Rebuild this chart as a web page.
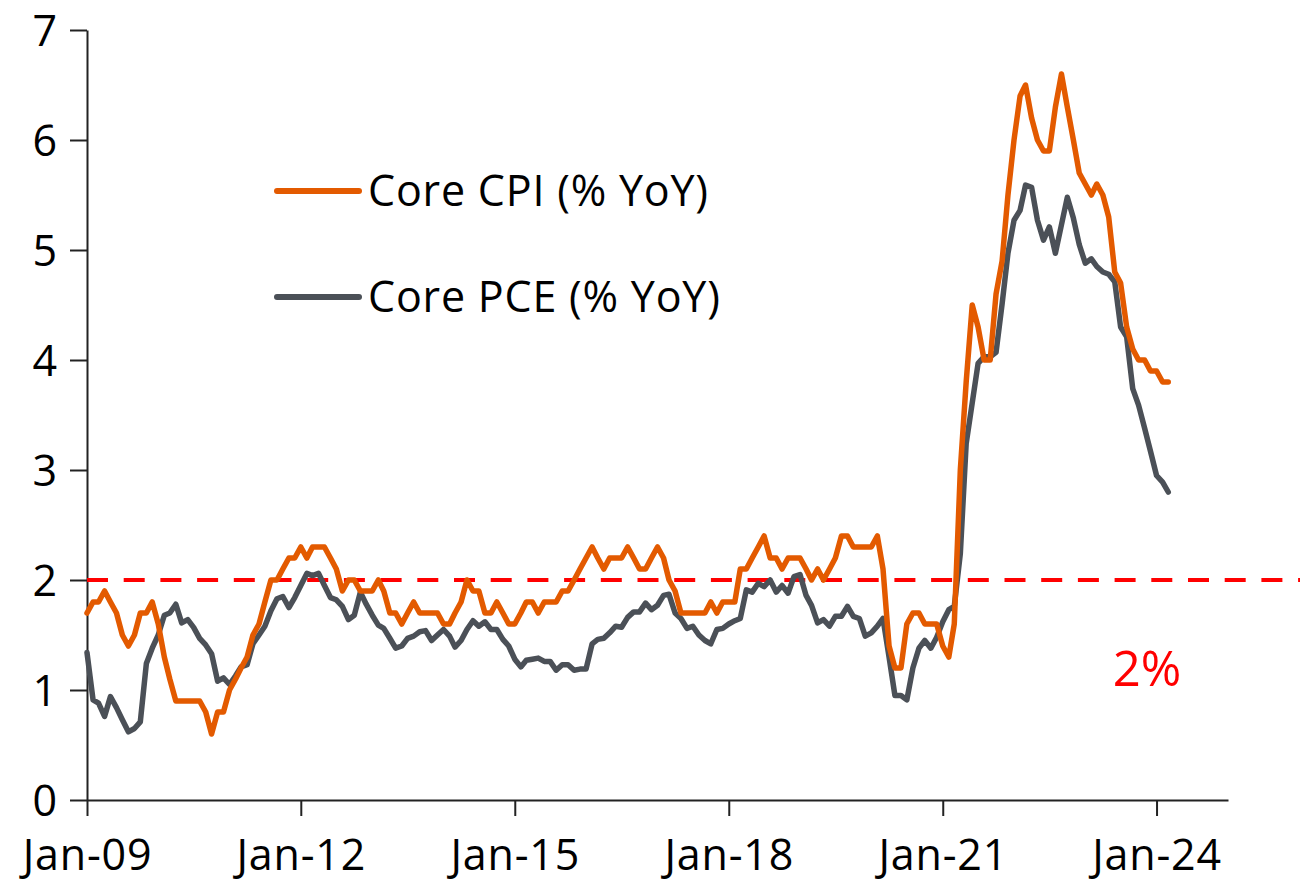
<!DOCTYPE html>
<html>
<head>
<meta charset="utf-8">
<script src="https://cdn.jsdelivr.net/npm/d3@7"></script>
<style>
  body { margin: 0; background: #fff; }
  text { font-family: "Open Sans", sans-serif; }
</style>
</head>
<body>
<script>
var width = 1300;
var height = 885;
var margin = { top: 30, right: 72, bottom: 85, left: 87 };

// monthly series, starting Jan-09
var startMonth = "Jan-09";
var coreCpi = [
  1.7, 1.8, 1.8, 1.9, 1.8, 1.7, 1.5, 1.4, 1.5, 1.7, 1.7, 1.8,
  1.6, 1.3, 1.1, 0.9, 0.9, 0.9, 0.9, 0.9, 0.8, 0.6, 0.8, 0.8,
  1.0, 1.1, 1.2, 1.3, 1.5, 1.6, 1.8, 2.0, 2.0, 2.1, 2.2, 2.2,
  2.3, 2.2, 2.3, 2.3, 2.3, 2.2, 2.1, 1.9, 2.0, 2.0, 1.9, 1.9,
  1.9, 2.0, 1.9, 1.7, 1.7, 1.6, 1.7, 1.8, 1.7, 1.7, 1.7, 1.7,
  1.6, 1.6, 1.7, 1.8, 2.0, 1.9, 1.9, 1.7, 1.7, 1.8, 1.7, 1.6,
  1.6, 1.7, 1.8, 1.8, 1.7, 1.8, 1.8, 1.8, 1.9, 1.9, 2.0, 2.1,
  2.2, 2.3, 2.2, 2.1, 2.2, 2.2, 2.2, 2.3, 2.2, 2.1, 2.1, 2.2,
  2.3, 2.2, 2.0, 1.9, 1.7, 1.7, 1.7, 1.7, 1.7, 1.8, 1.7, 1.8,
  1.8, 1.8, 2.1, 2.1, 2.2, 2.3, 2.4, 2.2, 2.2, 2.1, 2.2, 2.2,
  2.2, 2.1, 2.0, 2.1, 2.0, 2.1, 2.2, 2.4, 2.4, 2.3, 2.3, 2.3,
  2.3, 2.4, 2.1, 1.4, 1.2, 1.2, 1.6, 1.7, 1.7, 1.6, 1.6, 1.6,
  1.4, 1.3, 1.6, 3.0, 3.8, 4.5, 4.3, 4.0, 4.0, 4.6, 4.9, 5.5,
  6.0, 6.4, 6.5, 6.2, 6.0, 5.9, 5.9, 6.3, 6.6, 6.3, 6.0, 5.7,
  5.6, 5.5, 5.6, 5.5, 5.3, 4.8, 4.7, 4.3, 4.1, 4.0, 4.0, 3.9,
  3.9, 3.8, 3.8
];
var corePce = [
  1.34, 0.91, 0.88, 0.76, 0.94, 0.84, 0.73, 0.62, 0.65, 0.71, 1.24, 1.38,
  1.50, 1.68, 1.70, 1.78, 1.61, 1.64, 1.57, 1.47, 1.41, 1.33, 1.08, 1.11,
  1.05, 1.13, 1.21, 1.23, 1.42, 1.50, 1.58, 1.72, 1.83, 1.85, 1.75, 1.84,
  1.95, 2.06, 2.04, 2.06, 1.95, 1.84, 1.82, 1.76, 1.64, 1.68, 1.89, 1.78,
  1.68, 1.59, 1.56, 1.47, 1.38, 1.40, 1.47, 1.49, 1.53, 1.54, 1.45, 1.50,
  1.55, 1.49, 1.39, 1.45, 1.55, 1.63, 1.58, 1.62, 1.55, 1.55, 1.46, 1.40,
  1.28, 1.21, 1.27, 1.28, 1.29, 1.26, 1.26, 1.18, 1.23, 1.23, 1.18, 1.19,
  1.19, 1.42, 1.46, 1.47, 1.52, 1.58, 1.57, 1.66, 1.71, 1.71, 1.79, 1.73,
  1.77, 1.86, 1.87, 1.70, 1.65, 1.56, 1.58, 1.50, 1.45, 1.42, 1.55, 1.56,
  1.60, 1.63, 1.65, 1.91, 1.89, 1.97, 1.94, 2.00, 1.89, 1.95, 1.88, 2.03,
  2.05, 1.86, 1.77, 1.61, 1.64, 1.58, 1.67, 1.67, 1.76, 1.67, 1.65, 1.49,
  1.52, 1.58, 1.65, 1.30, 0.95, 0.95, 0.91, 1.20, 1.38, 1.45, 1.38, 1.48,
  1.62, 1.73, 1.76, 2.24, 3.24, 3.61, 3.97, 4.03, 4.03, 4.07, 4.51, 4.97,
  5.27, 5.36, 5.59, 5.57, 5.27, 5.09, 5.21, 4.97, 5.23, 5.48, 5.29, 5.05,
  4.88, 4.92, 4.85, 4.80, 4.78, 4.71, 4.30, 4.21, 3.74, 3.59, 3.38, 3.17,
  2.95, 2.89, 2.80
];
var seriesNames = ["Core CPI (% YoY)", "Core PCE (% YoY)"];
var seriesColors = ["#e35a00", "#4b5057"];
var xTickLabels = ["Jan-09", "Jan-12", "Jan-15", "Jan-18", "Jan-21", "Jan-24"];
var xDomain = ["Jan-09", "Jan-25"];
var yTicks = [0, 1, 2, 3, 4, 5, 6, 7];
var target = 2;
var targetLabel = "2%";

var parse = d3.timeParse("%b-%y");
var start = parse(startMonth);
var toRows = function (values) {
  return values.map(function (v, i) {
    return { date: d3.timeMonth.offset(start, i), value: v };
  });
};

var svg = d3
  .select("body")
  .append("svg")
  .attr("width", width)
  .attr("height", height);

var xScale = d3
  .scaleTime()
  .domain(xDomain.map(parse))
  .range([margin.left, width - margin.right]);

var yScale = d3
  .scaleLinear()
  .domain([0, 7])
  .range([height - margin.bottom, margin.top]);

// axes
var axisx = d3
  .axisBottom(xScale)
  .tickValues(xTickLabels.map(parse))
  .tickFormat(d3.timeFormat("%b-%y"))
  .tickSize(16)
  .tickSizeOuter(0)
  .tickPadding(20);
var axisy = d3
  .axisLeft(yScale)
  .tickValues(yTicks)
  .tickFormat(d3.format("d"))
  .tickSize(17)
  .tickSizeOuter(0)
  .tickPadding(12);

var gx = svg
  .append("g")
  .attr("transform", "translate(0," + (height - margin.bottom) + ")")
  .call(axisx);
var gy = svg
  .append("g")
  .attr("transform", "translate(" + margin.left + ",0)")
  .call(axisy);

[gx, gy].forEach(function (g) {
  g.selectAll("path, line").attr("stroke", "#222").attr("stroke-width", 2);
  g.selectAll("text")
    .attr("fill", "#000")
    .attr("font-size", 43)
    .attr("letter-spacing", "0.8px")
    .attr("font-family", "Open Sans");
});
gx.selectAll("text").attr("dy", "0.8em");
gy.selectAll("text").attr("dy", "0.36em");

// 2% target line
svg
  .append("line")
  .attr("x1", xScale(parse(xDomain[0])))
  .attr("x2", width)
  .attr("y1", yScale(target))
  .attr("y2", yScale(target))
  .attr("stroke", "#ff0000")
  .attr("stroke-width", 4)
  .attr("stroke-dasharray", "21 15.7");

svg
  .append("text")
  .attr("x", 1147)
  .attr("y", yScale(target) + 106)
  .attr("text-anchor", "middle")
  .attr("fill", "#ff0000")
  .attr("font-size", 49)
  .text(targetLabel);

// lines
var line = d3
  .line()
  .x(function (d) { return xScale(d.date); })
  .y(function (d) { return yScale(d.value); });

[corePce, coreCpi].forEach(function (values) {
  var idx = values === coreCpi ? 0 : 1;
  svg
    .append("path")
    .datum(toRows(values))
    .attr("fill", "none")
    .attr("stroke", seriesColors[idx])
    .attr("stroke-width", 5.5)
    .attr("stroke-linejoin", "round")
    .attr("stroke-linecap", "round")
    .attr("d", line);
});

// legend
var legend = svg.append("g");
seriesNames.forEach(function (name, i) {
  var ly = 191 + i * 106;
  legend
    .append("line")
    .attr("x1", 277)
    .attr("x2", 359)
    .attr("y1", ly)
    .attr("y2", ly)
    .attr("stroke", seriesColors[i])
    .attr("stroke-width", 6)
    .attr("stroke-linecap", "round");
  legend
    .append("text")
    .attr("x", 368)
    .attr("y", ly)
    .attr("dy", "0.36em")
    .attr("font-size", 43)
    .attr("letter-spacing", "0.8px")
    .attr("fill", "#000")
    .text(name);
});
</script>
</body>
</html>
